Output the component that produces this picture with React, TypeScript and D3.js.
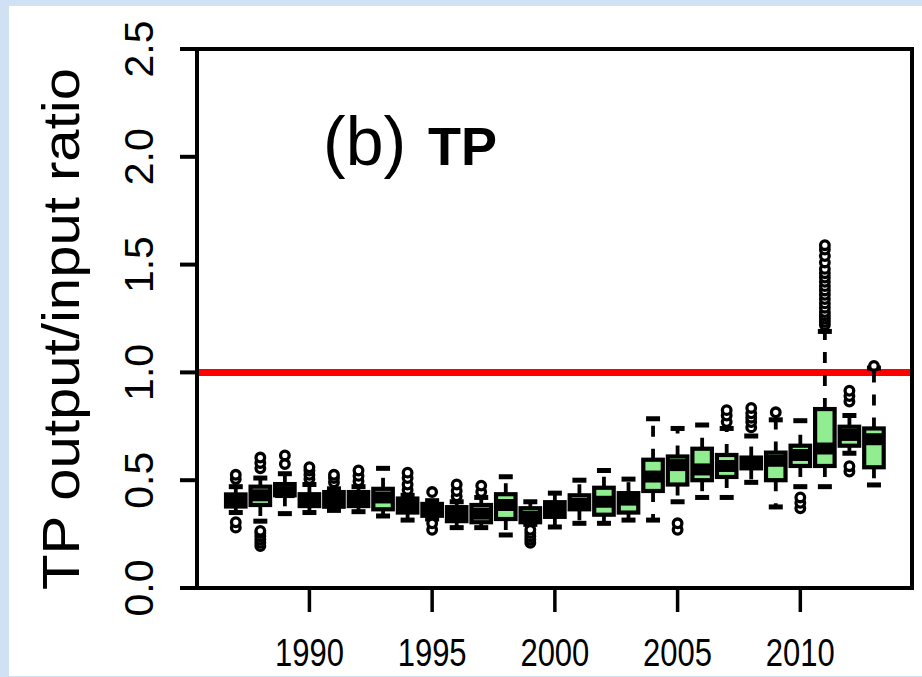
import React from 'react';
import * as d3 from 'd3';

const years = [1987, 1988, 1989, 1990, 1991, 1992, 1993, 1994, 1995, 1996, 1997, 1998, 1999, 2000,
  2001, 2002, 2003, 2004, 2005, 2006, 2007, 2008, 2009, 2010, 2011, 2012, 2013];
const whiskerLow = [0.35, 0.31, 0.345, 0.35, 0.36, 0.354, 0.334, 0.315, 0.32, 0.28, 0.28, 0.246, 0.295, 0.283,
  0.30, 0.30, 0.315, 0.315, 0.40, 0.42, 0.42, 0.49, 0.376, 0.47, 0.47, 0.625, 0.478];
const q1 = [0.378, 0.385, 0.43, 0.38, 0.377, 0.38, 0.365, 0.35, 0.335, 0.31, 0.305, 0.32, 0.305, 0.33,
  0.365, 0.34, 0.35, 0.45, 0.48, 0.50, 0.515, 0.555, 0.50, 0.566, 0.566, 0.66, 0.56];
const medians = [0.408, 0.43, 0.445, 0.41, 0.41, 0.41, 0.42, 0.385, 0.365, 0.34, 0.345, 0.385, 0.33, 0.365,
  0.39, 0.40, 0.41, 0.517, 0.57, 0.55, 0.566, 0.575, 0.59, 0.617, 0.647, 0.71, 0.69];
const q3 = [0.434, 0.47, 0.482, 0.435, 0.445, 0.445, 0.46, 0.415, 0.39, 0.375, 0.385, 0.435, 0.37, 0.398,
  0.43, 0.465, 0.44, 0.595, 0.61, 0.646, 0.617, 0.605, 0.628, 0.66, 0.83, 0.748, 0.74];
const whiskerHigh = [0.47, 0.51, 0.53, 0.48, 0.46, 0.47, 0.555, 0.43, 0.405, 0.40, 0.42, 0.516, 0.40, 0.44,
  0.50, 0.545, 0.505, 0.785, 0.74, 0.756, 0.74, 0.705, 0.78, 0.776, 1.19, 0.80, 1.02];
const outliers: number[][] = [
  [0.28, 0.305, 0.505, 0.525],
  [0.195, 0.21, 0.225, 0.24, 0.255, 0.265, 0.555, 0.58, 0.605],
  [0.575, 0.615],
  [0.505, 0.525, 0.545, 0.56],
  [0.49, 0.51, 0.525],
  [0.495, 0.52, 0.545],
  [],
  [0.455, 0.48, 0.51, 0.535],
  [0.27, 0.30, 0.445],
  [0.425, 0.45, 0.48],
  [0.445, 0.475],
  [],
  [0.21, 0.225, 0.24, 0.255, 0.27],
  [],
  [],
  [],
  [],
  [],
  [0.27, 0.30],
  [],
  [0.77, 0.80, 0.825],
  [0.745, 0.77, 0.79, 0.81, 0.835],
  [0.815],
  [0.37, 0.395, 0.42],
  [1.22, 1.235, 1.25, 1.265, 1.28, 1.30, 1.32, 1.34, 1.36, 1.38, 1.40, 1.42, 1.44, 1.46, 1.48, 1.51, 1.54, 1.57, 1.59],
  [0.54, 0.565, 0.865, 0.89, 0.915],
  [1.03],
];
const yTicks = [0, 0.5, 1.0, 1.5, 2.0, 2.5];
const xTicks = [1990, 1995, 2000, 2005, 2010];
const refValue = 1.0;

const FONT = "'Liberation Sans', Arial, sans-serif";

export default function App() {
  const W = 922, H = 677;
  const left = 197, right = 912, top = 49, bottom = 588;
  const x = d3.scaleLinear().domain([1985.42, 2014.55]).range([left, right]);
  const y = d3.scaleLinear().domain([0, 2.5]).range([bottom, top]);
  const bw = 19.5;
  const capHalf = 7;

  return (
    <svg width={W} height={H} style={{ position: 'absolute', left: 0, top: 0 }}>
      <rect x={0} y={0} width={W} height={H} fill="#cfe1f3" />
      <rect x={9} y={6} width={W - 9} height={670} fill="#ffffff" />

      {/* reference line */}
      <line x1={left} x2={right} y1={y(refValue)} y2={y(refValue)} stroke="#ff0000" strokeWidth={7} />

      {/* boxes */}
      {years.map((yr, i) => {
        const cx = x(yr);
        return (
          <g key={yr}>
            <line x1={cx} x2={cx} y1={y(q3[i])} y2={y(whiskerHigh[i])} stroke="#000" strokeWidth={3.8} strokeDasharray="11,12" />
            <line x1={cx} x2={cx} y1={y(q1[i])} y2={y(whiskerLow[i])} stroke="#000" strokeWidth={3.8} strokeDasharray="11,12" />
            <line x1={cx - capHalf} x2={cx + capHalf} y1={y(whiskerHigh[i])} y2={y(whiskerHigh[i])} stroke="#000" strokeWidth={5} />
            <line x1={cx - capHalf} x2={cx + capHalf} y1={y(whiskerLow[i])} y2={y(whiskerLow[i])} stroke="#000" strokeWidth={5} />
            <rect x={cx - bw / 2} y={y(q3[i])} width={bw} height={y(q1[i]) - y(q3[i])} fill="#90ee90" stroke="#000" strokeWidth={4.2} />
            <line x1={cx - bw / 2} x2={cx + bw / 2} y1={y(medians[i])} y2={y(medians[i])} stroke="#000" strokeWidth={12} />
            {outliers[i].map((v, j) => (
              <circle key={j} cx={cx} cy={y(v)} r={4.3} fill="#fff" stroke="#000" strokeWidth={3.3} />
            ))}
          </g>
        );
      })}

      {/* frame */}
      <rect x={left} y={top} width={right - left} height={bottom - top} fill="none" stroke="#000" strokeWidth={4} />

      {/* y axis */}
      {yTicks.map((t) => (
        <g key={t}>
          <line x1={left - 17} x2={left} y1={y(t)} y2={y(t)} stroke="#000" strokeWidth={4} />
          <text transform={`translate(153,${y(t)}) rotate(-90)`} textAnchor="middle" fontFamily={FONT} fontSize={41} fill="#000">
            {t.toFixed(1)}
          </text>
        </g>
      ))}
      <text transform="translate(79,329) rotate(-90)" textAnchor="middle" fontFamily={FONT} fontSize={52}
        textLength={522} lengthAdjust="spacingAndGlyphs" fill="#000">TP output/input ratio</text>

      {/* x axis */}
      {xTicks.map((t) => (
        <g key={t}>
          <line x1={x(t)} x2={x(t)} y1={590} y2={612} stroke="#000" strokeWidth={3.5} />
          <text transform={`translate(${x(t)},666) scale(1,1.27)`} textAnchor="middle" fontFamily={FONT} fontSize={31} fill="#000">
            {t}
          </text>
        </g>
      ))}

      {/* panel label */}
      <text x={323} y={165} fontFamily={FONT} fontSize={68} fill="#000">(b)</text>
      <text x={428} y={165} fontFamily={FONT} fontSize={54} fontWeight="bold" fill="#000">TP</text>
    </svg>
  );
}
